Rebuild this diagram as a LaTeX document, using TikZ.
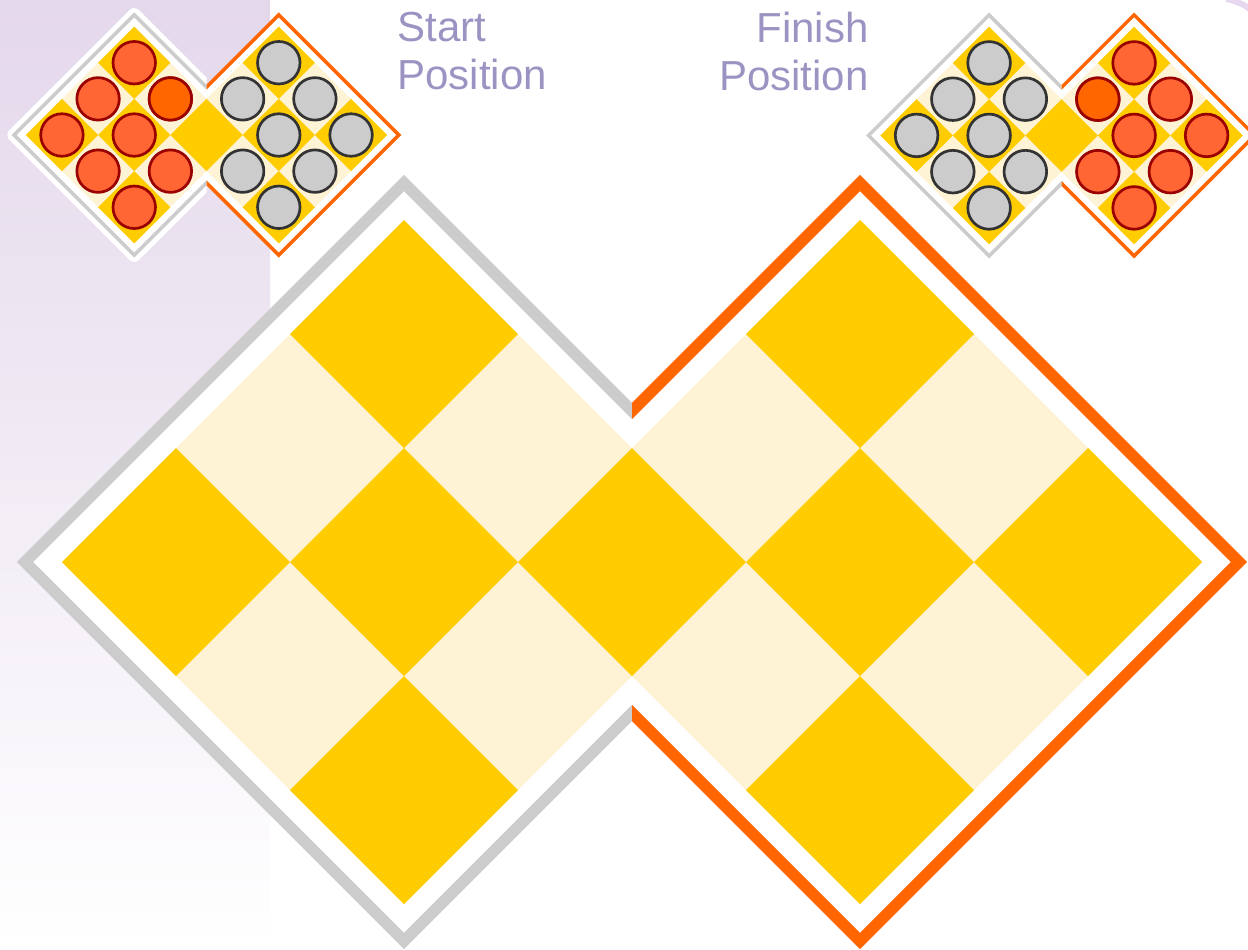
\documentclass[tikz,border=0pt]{standalone}
\usepackage{fontspec}
\usepackage{tikz}
\newfontfamily\labelfont{Liberation Sans}

\definecolor{cellDark}{HTML}{FFCC00}
\definecolor{cellLight}{HTML}{FFF3D6}
\definecolor{frameGray}{HTML}{CCCCCC}
\definecolor{frameOrange}{HTML}{FF6600}
\definecolor{pieceRed}{HTML}{FF6633}
\definecolor{pieceOrange}{HTML}{FF6600}
\definecolor{pieceRedEdge}{HTML}{990000}
\definecolor{pieceGray}{HTML}{CCCCCC}
\definecolor{pieceGrayEdge}{HTML}{333333}
\definecolor{stripTop}{HTML}{E4D8EB}
\definecolor{labelPurple}{HTML}{9D93C3}
\definecolor{arcPurple}{HTML}{E6D9EF}

% board drawn around the shared cell, cell half-diagonal 114
\newcommand{\boardcells}{%
  \fill[cellLight] (-228,-342) -- (114,0) -- (-228,342) -- (-570,0) -- cycle;
  \fill[cellLight] (228,-342) -- (570,0) -- (228,342) -- (-114,0) -- cycle;
  \foreach \p in {(-228,-228),(-456,0),(-228,0),(-228,228),(0,0),
                  (228,-228),(228,0),(456,0),(228,228)}
    \fill[cellDark] \p +(0,-114) -- +(114,0) -- +(0,114) -- +(-114,0) -- cycle;
}
\newcommand{\boardframe}[1]{%
  \fill[white] (0,-151) -- (-228,-379) -- (-607,0) -- (-228,379) -- (0,151)
    -- (228,379) -- (607,0) -- (228,-379) -- cycle;
  \begin{scope}
    \clip (-700,-500) rectangle (0,500);
    \draw[draw=frameGray, line width=#1] (40,-111) -- (-228,-379) -- (-607,0)
      -- (-228,379) -- (40,111);
  \end{scope}
  \begin{scope}
    \clip (0,-500) rectangle (700,500);
    \draw[draw=frameOrange, line width=#1] (-40,-111) -- (228,-379) -- (607,0)
      -- (228,379) -- (-40,111);
  \end{scope}
}
\newcommand{\framehalo}{%
  \begin{scope}
    \clip (-700,-500) rectangle (0,500);
    \draw[white, line width=6.75pt, line join=round] (40,-111) -- (-228,-379)
      -- (-607,0) -- (-228,379) -- (40,111);
  \end{scope}
}
% #1 centre of the diamond (-228 or 228), #2 piece style
\newcommand{\pieces}[2]{%
  \foreach \dx/\dy in {0/-228,114/-114,-114/-114,#1/0,0/0,-114/114,114/114,0/228}
    \draw[#2] ({#1+(\dx)},\dy) circle[radius=67];
}

\begin{document}
\begin{tikzpicture}[x=0.5pt, y=-0.5pt,
  redpiece/.style={fill=pieceRed, draw=pieceRedEdge, line width=1.35pt},
  graypiece/.style={fill=pieceGray, draw=pieceGrayEdge, line width=1.35pt},
  poslabel/.style={font=\labelfont\fontsize{21}{24}\selectfont, text=labelPurple,
                   inner sep=0pt}
]
\useasboundingbox (0,0) rectangle (1248,949);

% ---- Background ----
\shade[top color=stripTop, bottom color=white] (0,0) rectangle (270,949);
\draw[arcPurple, line width=3pt] (1226,-1) .. controls (1236,1) and (1243,4) .. (1250,9);

% ---- Main board ----
\begin{scope}[shift={(632,562)}]
  \boardframe{5.75pt}
  \boardcells
\end{scope}

% ---- Start position ----
\begin{scope}[shift={(206.5,135)}, scale=0.317]
  \framehalo
  \boardframe{1.75pt}
  \boardcells
  \pieces{-228}{redpiece}
  \draw[redpiece, fill=pieceOrange] (-114,-114) circle[radius=67];
  \pieces{228}{graypiece}
\end{scope}

% ---- Finish position ----
\begin{scope}[shift={(1061.6,135.4)}, scale=0.318]
  \boardframe{1.75pt}
  \boardcells
  \pieces{-228}{graypiece}
  \pieces{228}{redpiece}
  \draw[redpiece, fill=pieceOrange] (114,-114) circle[radius=67];
\end{scope}

% ---- Labels ----
\node[poslabel, align=left, anchor=north west] (start) at (397,12)
  {Start\\Position};
\node[poslabel, align=right, anchor=north east] (finish) at (869,12)
  {Finish\\Position};
\end{tikzpicture}
\end{document}
